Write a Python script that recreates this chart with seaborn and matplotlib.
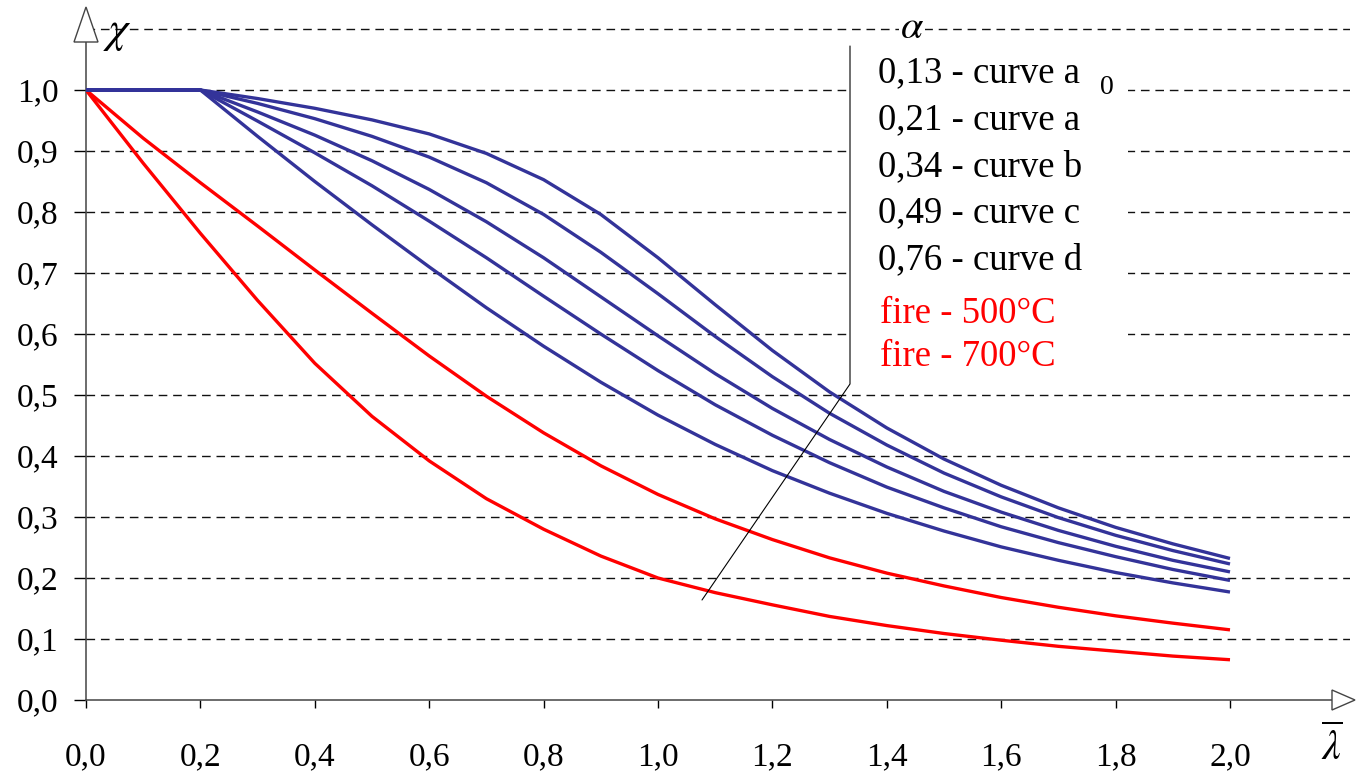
import numpy as np
import pandas as pd
import matplotlib.pyplot as plt
import seaborn as sns
from matplotlib.patches import Polygon, Rectangle
from matplotlib.lines import Line2D

# relative slenderness (lambda bar) and reduction factor chi
lam = [0.0, 0.1, 0.2, 0.3, 0.4, 0.5, 0.6, 0.7, 0.8, 0.9, 1.0,
       1.1, 1.2, 1.3, 1.4, 1.5, 1.6, 1.7, 1.8, 1.9, 2.0]
chi_a0 = [1.0, 1.0, 1.0, 0.986, 0.970, 0.951, 0.928, 0.896, 0.853, 0.796, 0.725,
          0.648, 0.573, 0.505, 0.446, 0.395, 0.352, 0.315, 0.283, 0.256, 0.232]
chi_a = [1.0, 1.0, 1.0, 0.978, 0.953, 0.924, 0.890, 0.848, 0.796, 0.734, 0.666,
         0.596, 0.530, 0.470, 0.418, 0.372, 0.333, 0.299, 0.270, 0.245, 0.223]
chi_b = [1.0, 1.0, 1.0, 0.964, 0.926, 0.884, 0.837, 0.784, 0.725, 0.661, 0.597,
         0.535, 0.478, 0.427, 0.382, 0.342, 0.308, 0.278, 0.252, 0.229, 0.210]
chi_c = [1.0, 1.0, 1.0, 0.949, 0.897, 0.843, 0.785, 0.725, 0.662, 0.600, 0.540,
         0.484, 0.434, 0.389, 0.349, 0.315, 0.284, 0.258, 0.235, 0.214, 0.196]
chi_d = [1.0, 1.0, 1.0, 0.924, 0.850, 0.779, 0.710, 0.643, 0.580, 0.521, 0.467,
         0.419, 0.376, 0.339, 0.306, 0.277, 0.251, 0.229, 0.209, 0.192, 0.177]
chi_fire500 = [1.0, 0.921, 0.848, 0.777, 0.705, 0.634, 0.564, 0.498, 0.438, 0.384, 0.337,
               0.297, 0.263, 0.233, 0.208, 0.187, 0.168, 0.152, 0.138, 0.126, 0.115]
chi_fire700 = [1.0, 0.880, 0.765, 0.655, 0.552, 0.465, 0.392, 0.330, 0.280, 0.236, 0.200,
               0.176, 0.156, 0.137, 0.122, 0.109, 0.098, 0.088, 0.080, 0.072, 0.066]

curve_names = ["fire 700", "fire 500", "d", "c", "b", "a", "a0"]
curve_values = [chi_fire700, chi_fire500, chi_d, chi_c, chi_b, chi_a, chi_a0]

legend_lines = ["0,13 - curve a", "0,21 - curve a", "0,34 - curve b",
                "0,49 - curve c", "0,76 - curve d"]
fire_lines = ["fire - 500°C", "fire - 700°C"]

x_ticks = [0.0, 0.2, 0.4, 0.6, 0.8, 1.0, 1.2, 1.4, 1.6, 1.8, 2.0]
x_ticklabels = ["0,0", "0,2", "0,4", "0,6", "0,8", "1,0", "1,2", "1,4", "1,6", "1,8", "2,0"]
y_ticks = [0.0, 0.1, 0.2, 0.3, 0.4, 0.5, 0.6, 0.7, 0.8, 0.9, 1.0]
y_ticklabels = ["0,0", "0,1", "0,2", "0,3", "0,4", "0,5", "0,6", "0,7", "0,8", "0,9", "1,0"]
grid_levels = [0.1, 0.2, 0.3, 0.4, 0.5, 0.6, 0.7, 0.8, 0.9, 1.0, 1.1]

BLUE = "#333399"
RED = "#ff0000"

df = pd.DataFrame({
    "lam": lam * len(curve_names),
    "chi": sum(curve_values, []),
    "curve": np.repeat(curve_names, len(lam)),
})

sns.set_style("white")
plt.rcParams["font.family"] = ["Liberation Serif", "DejaVu Serif"]
plt.rcParams["mathtext.fontset"] = "stix"
plt.rcParams["lines.scale_dashes"] = False
plt.rcParams["text.color"] = "black"
plt.rcParams["xtick.labelcolor"] = "black"
plt.rcParams["ytick.labelcolor"] = "black"

W, H = 1356, 774
fig = plt.figure(figsize=(W / 100, H / 100), dpi=100)
# axes placed so that x=0 -> px 86, x=2 -> px 1230, y=0 -> px 700, y=1 -> px 90
ax = fig.add_axes([86 / W, (H - 700) / H, (1350 - 86) / W, (700 - 8) / H])
ax.set_xlim(0, (1350 - 86) / 572)
ax.set_ylim(0, (700 - 8) / 610)

ax.hlines(grid_levels, 0, ax.get_xlim()[1], colors="#111111", linewidth=1.0,
          linestyles=(0, (6.2, 4.2)), zorder=1)

palette = {"a0": BLUE, "a": BLUE, "b": BLUE, "c": BLUE, "d": BLUE,
           "fire 500": RED, "fire 700": RED}
sns.lineplot(data=df, x="lam", y="chi", hue="curve", hue_order=curve_names,
             palette=palette, linewidth=2.4, legend=False, ax=ax, zorder=3,
             estimator=None, sort=False)
for ln in ax.lines:
    ln.set_solid_joinstyle("round")
    ln.set_solid_capstyle("butt")

ax.set_xticks(x_ticks)
ax.set_xticklabels(x_ticklabels)
ax.set_yticks(y_ticks)
ax.set_yticklabels(y_ticklabels)
ax.set_xlabel("")
ax.set_ylabel("")
ax.tick_params(axis="y", direction="out", length=8.6, width=1.0, color="black",
               pad=11, labelsize=24, left=True)
ax.tick_params(axis="x", direction="out", length=5.8, width=1.0, color="black",
               pad=24, labelsize=24, bottom=True)

for side in ["top", "right"]:
    ax.spines[side].set_visible(False)
for side in ["left", "bottom"]:
    ax.spines[side].set_color("#444444")
    ax.spines[side].set_linewidth(1.1)
ax.spines["left"].set_bounds(0, (700 - 42) / 610)
ax.spines["bottom"].set_bounds(0, (1332 - 86) / 572)


def fx(px):
    return px / W


def fy(py):
    return 1 - py / H


# hollow arrow heads on both axes
fig.patches.append(Polygon([(fx(74), fy(42)), (fx(98), fy(42)), (fx(86), fy(7))],
                           closed=True, facecolor="white", edgecolor="#444444",
                           linewidth=1.0, transform=fig.transFigure, figure=fig))
fig.patches.append(Polygon([(fx(1332), fy(690)), (fx(1332), fy(710)), (fx(1355), fy(700))],
                           closed=True, facecolor="white", edgecolor="#444444",
                           linewidth=1.0, transform=fig.transFigure, figure=fig))

# white panel behind the legend text
fig.patches.append(Rectangle((fx(851), fy(376)), fx(1128) - fx(851), fy(44) - fy(376),
                             facecolor="white", edgecolor="none",
                             transform=fig.transFigure, figure=fig))
fig.lines.append(Line2D([fx(850), fx(850), fx(702)], [fy(46), fy(384), fy(600)],
                        color="black", linewidth=0.8, transform=fig.transFigure, figure=fig))

fig.text(fx(103), fy(33), r"$\chi$", fontsize=32, ha="left", va="center")
fig.text(fx(912), fy(29), r"$\alpha$", fontsize=29, ha="center", va="center",
         bbox=dict(facecolor="white", edgecolor="none", pad=1))
fig.text(fx(1332), fy(747), r"$\overline{\lambda}$", fontsize=30, ha="center", va="center")

rows_y = [73, 120, 167, 213, 260]
for txt, ry in zip(legend_lines, rows_y):
    fig.text(fx(878), fy(ry), txt, fontsize=26.5, ha="left", va="center")
fig.text(fx(1100), fy(88), "0", fontsize=20, ha="left", va="center")
for txt, ry in zip(fire_lines, [314, 357]):
    fig.text(fx(880), fy(ry), txt, fontsize=26.5, ha="left", va="center", color=RED)

fig.savefig("out.png", dpi=100)
